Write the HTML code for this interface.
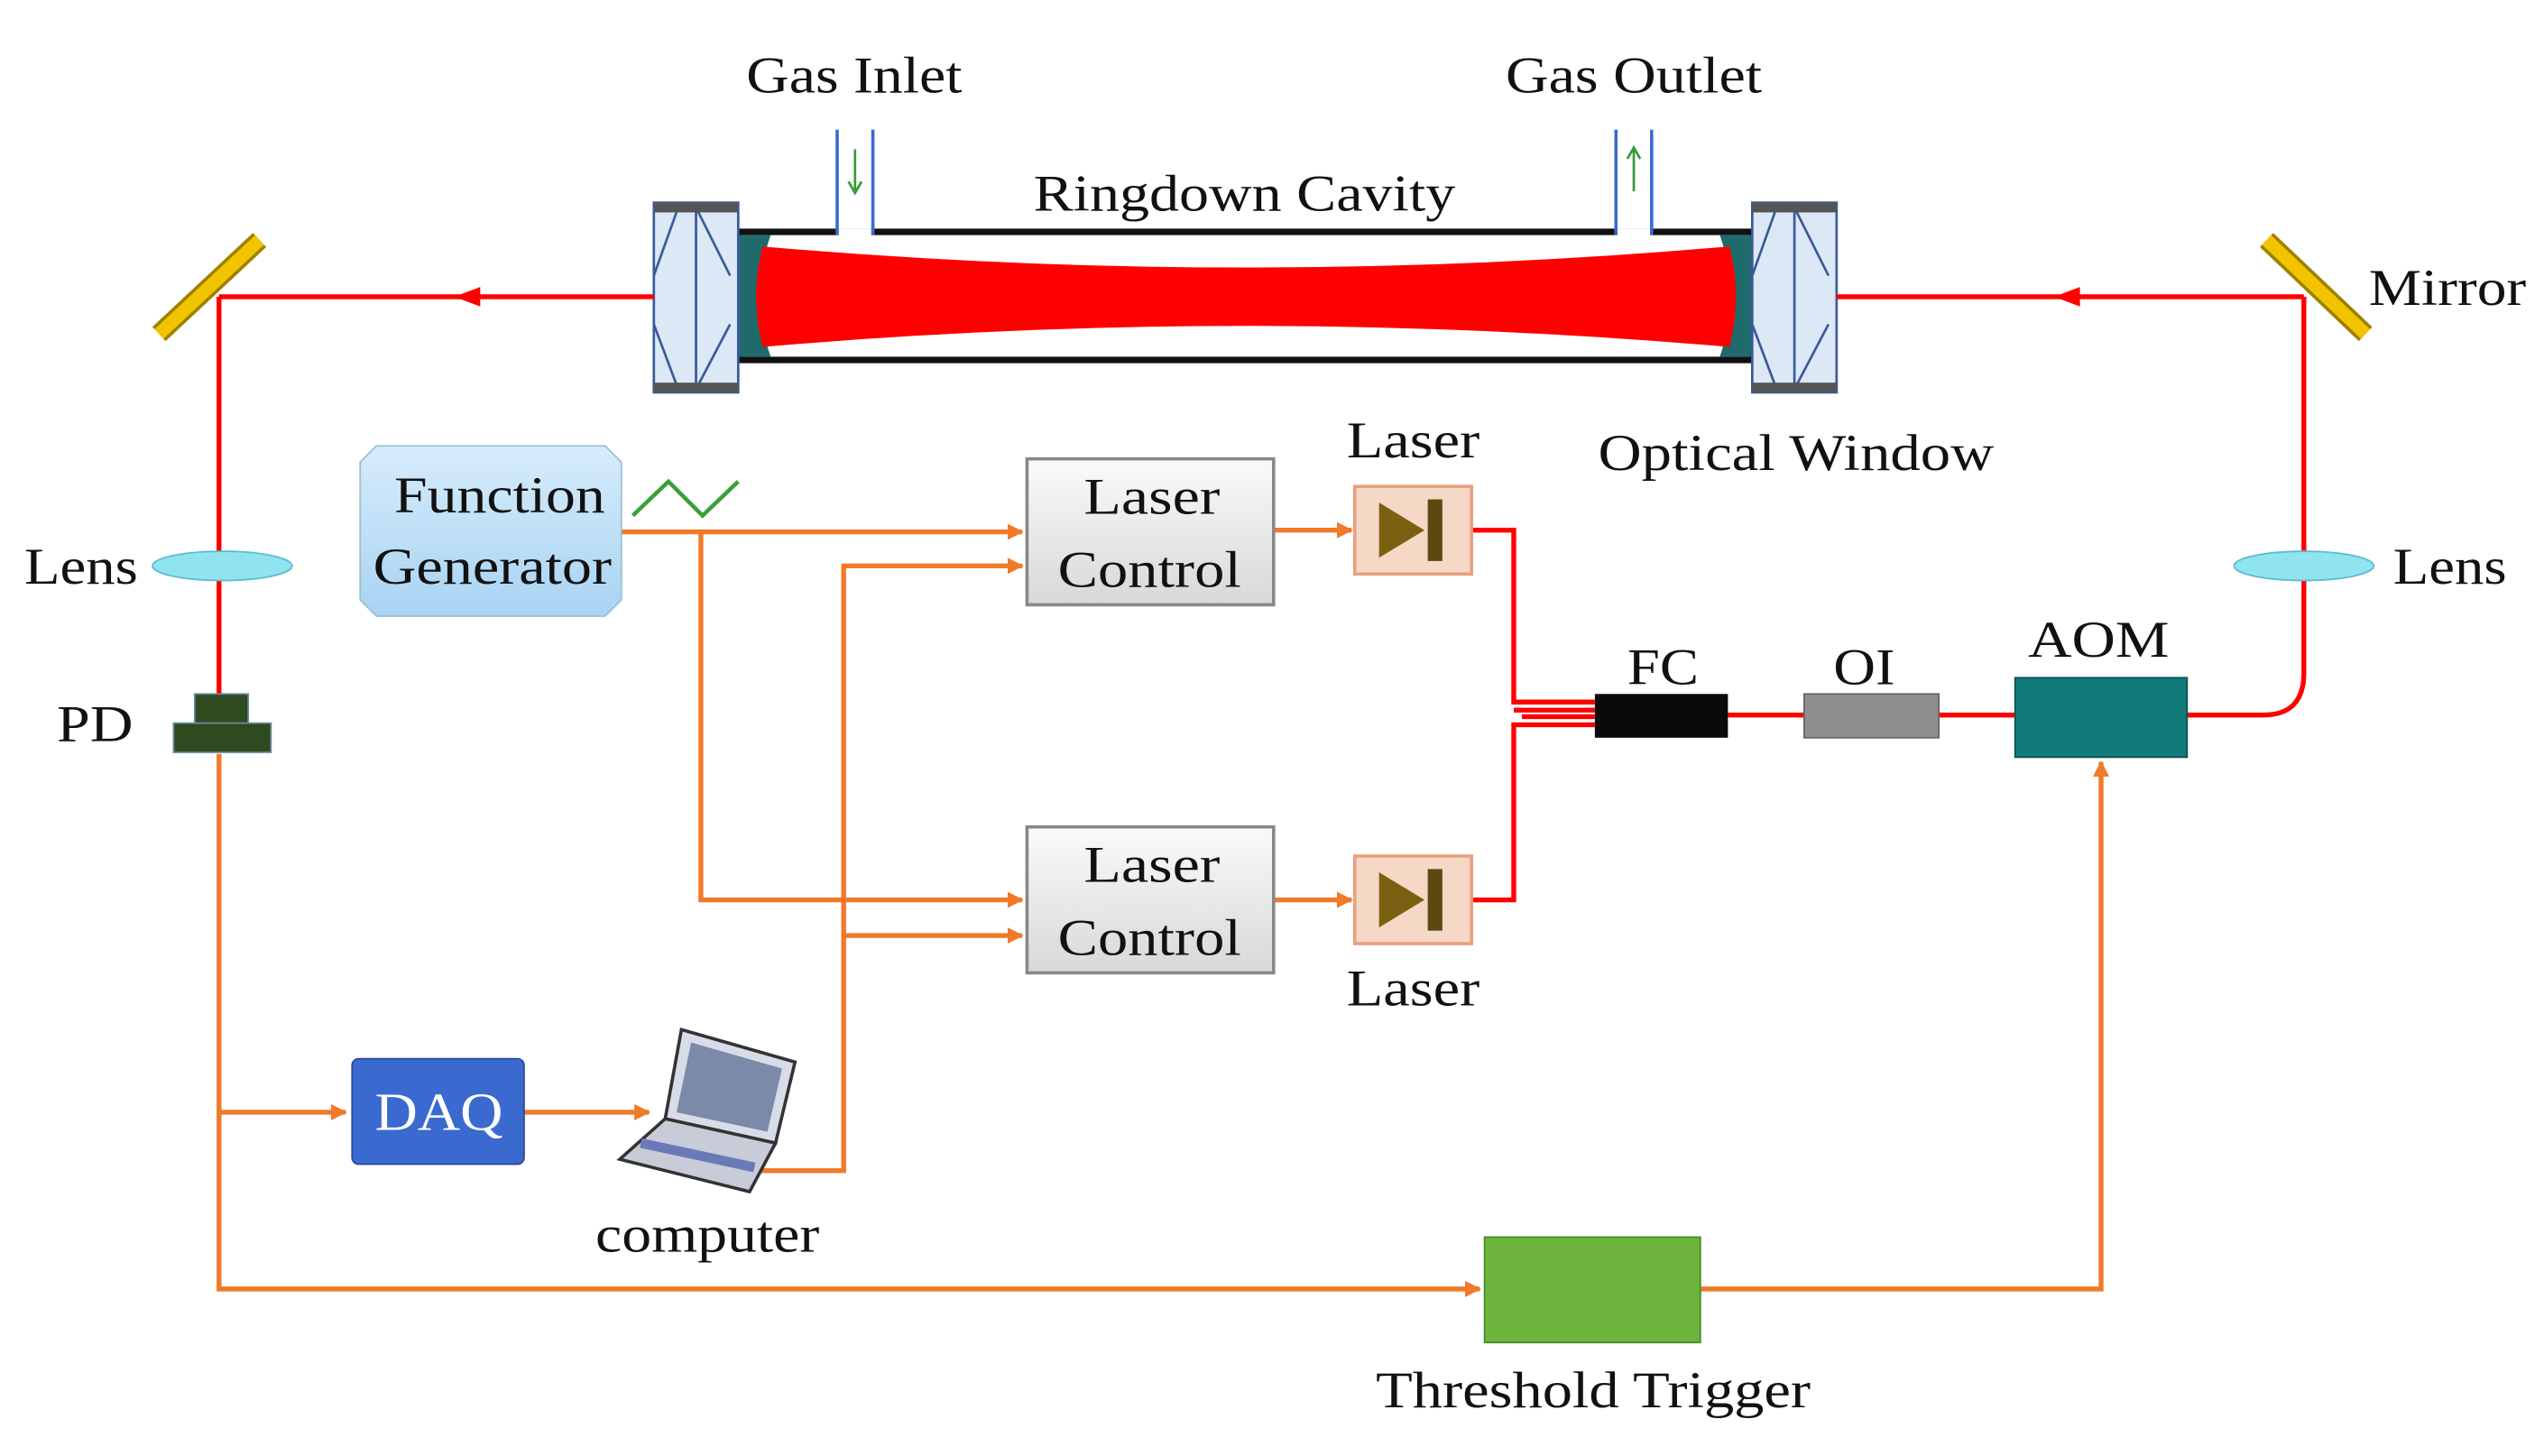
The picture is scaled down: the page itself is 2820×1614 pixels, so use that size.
<!DOCTYPE html>
<html><head><meta charset="utf-8"><style>
html,body{margin:0;padding:0;background:#fff;}
svg{display:block;}
text{font-family:"Liberation Serif",serif;fill:#111;}
</style></head><body>
<svg width="2820" height="1614" viewBox="0 0 1568 898" preserveAspectRatio="none" xmlns="http://www.w3.org/2000/svg">
<defs>
<marker id="ao" markerWidth="10" markerHeight="10" refX="9" refY="5" orient="auto" markerUnits="userSpaceOnUse"><path d="M0,0 L10,5 L0,10 Z" fill="#f07a2a"/></marker>
<linearGradient id="lc" x1="0" y1="0" x2="0" y2="1"><stop offset="0" stop-color="#fafafa"/><stop offset="1" stop-color="#d8d8d8"/></linearGradient>
<linearGradient id="fg" x1="0" y1="0" x2="0" y2="1"><stop offset="0" stop-color="#d6ecfb"/><stop offset="1" stop-color="#a9d3f2"/></linearGradient>
</defs>
<g font-size="32" lengthAdjust="spacingAndGlyphs">
<text x="460" y="57" textLength="133" lengthAdjust="spacingAndGlyphs">Gas Inlet</text>
<text x="928" y="57" textLength="158" lengthAdjust="spacingAndGlyphs">Gas Outlet</text>
<text x="637" y="130" textLength="260" lengthAdjust="spacingAndGlyphs">Ringdown Cavity</text>
<text x="1460" y="188" textLength="97" lengthAdjust="spacingAndGlyphs">Mirror</text>
<text x="830" y="282" textLength="82" lengthAdjust="spacingAndGlyphs">Laser</text>
<text x="985" y="290" textLength="244" lengthAdjust="spacingAndGlyphs">Optical Window</text>
<text x="15" y="360" textLength="70" lengthAdjust="spacingAndGlyphs">Lens</text>
<text x="1475" y="360" textLength="70" lengthAdjust="spacingAndGlyphs">Lens</text>
<text x="35" y="457" textLength="47" lengthAdjust="spacingAndGlyphs">PD</text>
<text x="1003" y="422" textLength="44" lengthAdjust="spacingAndGlyphs">FC</text>
<text x="1130" y="422" textLength="38" lengthAdjust="spacingAndGlyphs">OI</text>
<text x="1250" y="405" textLength="87" lengthAdjust="spacingAndGlyphs">AOM</text>
<text x="830" y="620" textLength="82" lengthAdjust="spacingAndGlyphs">Laser</text>
<text x="367" y="772" textLength="138" lengthAdjust="spacingAndGlyphs">computer</text>
<text x="848" y="868" textLength="268" lengthAdjust="spacingAndGlyphs">Threshold Trigger</text>
</g>
<rect x="455" y="143" width="625" height="79" fill="#fff" stroke="#111" stroke-width="4"/>
<path d="M455,145 L475,145 Q462,182 475,220 L455,220 Z" fill="#1f6b6b"/>
<path d="M1080,145 L1060,145 Q1073,182 1060,220 L1080,220 Z" fill="#1f6b6b"/>
<path d="M470,152 Q767,178 1066,152 Q1074,183 1066,214 Q767,188 470,214 Q462,183 470,152 Z" fill="#ff0000"/>
<g stroke="#3a5a9a" stroke-width="1.5" fill="#dde8f6">
<rect x="403" y="125" width="52" height="117"/>
<rect x="1080" y="125" width="52" height="117"/>
<path d="M429,125 V242 M403,170 L418,128 M429,128 L450,170 M403,200 L418,240 M429,240 L450,200" fill="none"/>
<path d="M1106,125 V242 M1080,170 L1095,128 M1106,128 L1127,170 M1080,200 L1095,240 M1106,240 L1127,200" fill="none"/>
</g>
<rect x="403" y="125" width="52" height="6" fill="#555"/><rect x="403" y="236" width="52" height="6" fill="#555"/>
<rect x="1080" y="125" width="52" height="6" fill="#555"/><rect x="1080" y="236" width="52" height="6" fill="#555"/>
<g stroke="#3a6ad0" stroke-width="2"><line x1="516" y1="80" x2="516" y2="145"/><line x1="538" y1="80" x2="538" y2="145"/><line x1="996" y1="80" x2="996" y2="145"/><line x1="1018" y1="80" x2="1018" y2="145"/></g>
<rect x="517" y="141" width="20" height="6" fill="#fff"/><rect x="997" y="141" width="20" height="6" fill="#fff"/>
<path d="M527,92 V118 M523,112 L527,119 L531,112" stroke="#3a9a3a" fill="none" stroke-width="1.5"/>
<path d="M1007,118 V92 M1003,98 L1007,91 L1011,98" stroke="#3a9a3a" fill="none" stroke-width="1.5"/>
<g stroke="#ff0000" stroke-width="3" fill="none">
<line x1="135" y1="183" x2="403" y2="183"/>
<line x1="1132" y1="183" x2="1420" y2="183"/>
<line x1="135" y1="183" x2="135" y2="430"/>
<path d="M1420,183 V415 Q1420,441 1395,441 H1348"/>
<path d="M907,327 H933 V433 H983"/><path d="M907,555 H933 V447 H983"/>
<path d="M933,438 H983 M938,442 H983"/>
<line x1="1065" y1="441" x2="1112" y2="441"/><line x1="1195" y1="441" x2="1242" y2="441"/>
</g>
<path d="M280,183 L296,177 L296,189 Z" fill="#ff0000"/>
<path d="M1266,183 L1282,177 L1282,189 Z" fill="#ff0000"/>
<line x1="98" y1="206" x2="160" y2="148" stroke="#a08000" stroke-width="12"/>
<line x1="98" y1="206" x2="160" y2="148" stroke="#f2c400" stroke-width="8"/>
<line x1="1397" y1="148" x2="1458" y2="206" stroke="#a08000" stroke-width="12"/>
<line x1="1397" y1="148" x2="1458" y2="206" stroke="#f2c400" stroke-width="8"/>
<ellipse cx="137" cy="349" rx="43" ry="9" fill="#8fe4f0" stroke="#5bbcd0"/>
<ellipse cx="1420" cy="349" rx="43" ry="9" fill="#8fe4f0" stroke="#5bbcd0"/>
<rect x="120" y="428" width="33" height="20" fill="#2e4a1e" stroke="#6a8a9a"/>
<rect x="107" y="446" width="60" height="18" fill="#2e4a1e" stroke="#6a8a9a"/>
<g stroke="#f07a2a" stroke-width="3" fill="none">
<line x1="383" y1="328" x2="630" y2="328" marker-end="url(#ao)"/>
<path d="M432,328 V555 H630" marker-end="url(#ao)"/>
<path d="M462,722 H520 V349 H630" marker-end="url(#ao)"/>
<line x1="520" y1="577" x2="630" y2="577" marker-end="url(#ao)"/>
<line x1="785" y1="327" x2="833" y2="327" marker-end="url(#ao)"/>
<line x1="785" y1="555" x2="833" y2="555" marker-end="url(#ao)"/>
<path d="M135,465 V795 H912" marker-end="url(#ao)"/>
<line x1="135" y1="686" x2="213" y2="686" marker-end="url(#ao)"/>
<line x1="323" y1="686" x2="400" y2="686" marker-end="url(#ao)"/>
<path d="M1048,795 H1295 V470" marker-end="url(#ao)"/>
</g>
<path d="M232,275 H373 L383,285 V370 L373,380 H232 L222,370 V285 Z" fill="url(#fg)" stroke="#9bbfd8"/>
<text x="243" y="316" font-size="32" textLength="130" lengthAdjust="spacingAndGlyphs">Function</text>
<text x="230" y="360" font-size="32" textLength="147" lengthAdjust="spacingAndGlyphs">Generator</text>
<path d="M390,318 L412,297 L433,318 L455,297" stroke="#3aa03a" stroke-width="2.5" fill="none"/>
<rect x="633" y="283" width="152" height="90" fill="url(#lc)" stroke="#888" stroke-width="2"/>
<rect x="633" y="510" width="152" height="90" fill="url(#lc)" stroke="#888" stroke-width="2"/>
<g font-size="32"><text x="668" y="317" textLength="84" lengthAdjust="spacingAndGlyphs">Laser</text><text x="652" y="362" textLength="113" lengthAdjust="spacingAndGlyphs">Control</text><text x="668" y="544" textLength="84" lengthAdjust="spacingAndGlyphs">Laser</text><text x="652" y="589" textLength="113" lengthAdjust="spacingAndGlyphs">Control</text></g>
<rect x="835" y="300" width="72" height="54" fill="#f6d8c6" stroke="#e8a080" stroke-width="2"/>
<path d="M850,310 L878,327 L850,344 Z" fill="#7a6010"/><rect x="880" y="308" width="9" height="38" fill="#5a4a10"/>
<rect x="835" y="528" width="72" height="54" fill="#f6d8c6" stroke="#e8a080" stroke-width="2"/>
<path d="M850,538 L878,555 L850,572 Z" fill="#7a6010"/><rect x="880" y="536" width="9" height="38" fill="#5a4a10"/>
<rect x="983" y="428" width="82" height="27" fill="#0a0a0a"/>
<rect x="1112" y="428" width="83" height="27" fill="#8f8f8f" stroke="#666"/>
<rect x="1242" y="418" width="106" height="49" fill="#137a7a" stroke="#0c5050"/>
<rect x="217" y="653" width="106" height="65" rx="4" fill="#3a6ad0" stroke="#2a4a9a"/>
<text x="231" y="697" font-size="33" textLength="79" lengthAdjust="spacingAndGlyphs" style="fill:#fff">DAQ</text>
<path d="M420,635 L490,655 L478,705 L410,690 Z" fill="#d8dce8" stroke="#333" stroke-width="2"/>
<path d="M426,643 L482,659 L473,698 L417,686 Z" fill="#7a8aa8"/>
<path d="M410,690 L478,705 L462,735 L382,715 Z" fill="#c8ccd8" stroke="#333" stroke-width="2"/>
<path d="M395,705 L465,720" stroke="#6a7ab8" stroke-width="6"/>
<rect x="915" y="763" width="133" height="65" fill="#6cb43c" stroke="#4a8a2a"/>
</svg>
</body></html>
